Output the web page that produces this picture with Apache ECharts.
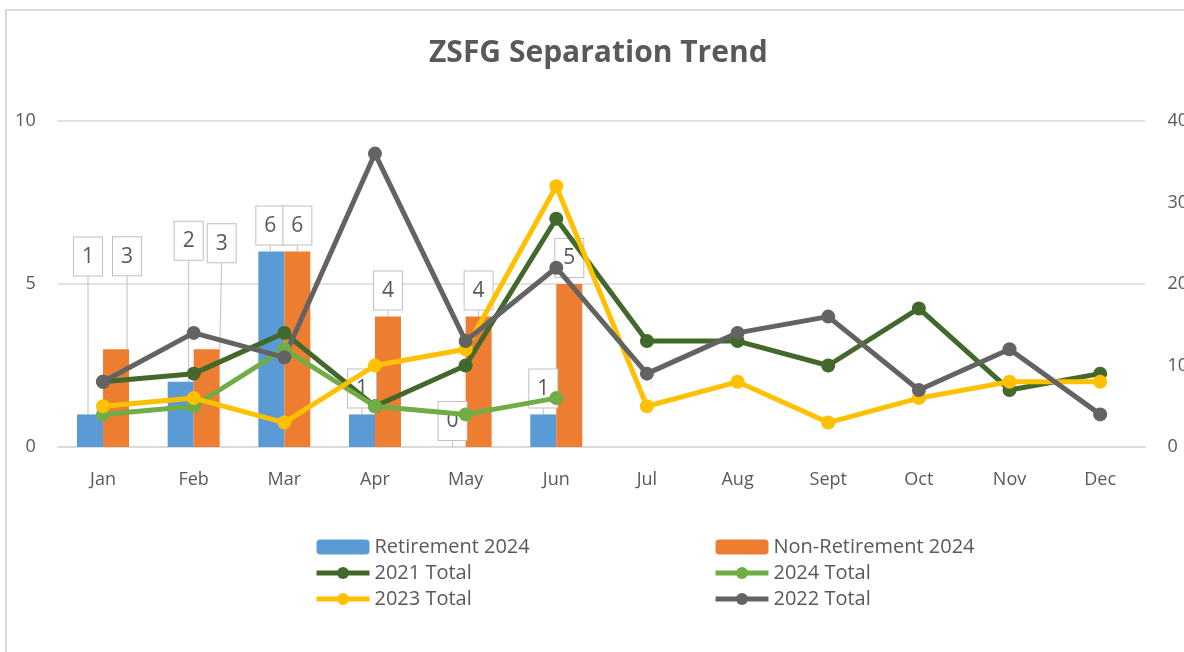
<!DOCTYPE html>
<html>
<head>
<meta charset="utf-8">
<script src="https://cdn.jsdelivr.net/npm/echarts@6/dist/echarts.min.js"></script>
<style>
html,body{margin:0;padding:0;background:#fff;}
#wrap{position:relative;width:1184px;height:652px;overflow:hidden;}
#chart{position:absolute;left:0;top:0;width:1184px;height:652px;}
#frame{position:absolute;left:5px;top:9px;width:1300px;height:800px;border-left:2px solid #d9d9d9;border-top:2px solid #d9d9d9;pointer-events:none;}
</style>
</head>
<body>
<div id="wrap"><div id="frame"></div><div id="chart"></div></div>
<script>
const months = ['Jan','Feb','Mar','Apr','May','Jun','Jul','Aug','Sept','Oct','Nov','Dec'];
const retirement2024 = [1, 2, 6, 1, 0, 1];
const nonRetirement2024 = [3, 3, 6, 4, 4, 5];
const total2021 = [8, 9, 14, 5, 10, 28, 13, 13, 10, 17, 7, 9];
const total2024 = [4, 5, 12, 5, 4, 6];
const total2023 = [5, 6, 3, 10, 12, 32, 5, 8, 3, 6, 8, 8];
const total2022 = [8, 14, 11, 36, 13, 22, 9, 14, 16, 7, 12, 4];

// callout label offsets (layout only)
const retLabelShift = [[-2, -132], [8, -115], [-1, 0], [0, 0], [0, 0], [0, 0]];
const nonRetLabelShift = [[11, -67], [15, -80], [0, 0], [0, 0], [0, 0], [0, 0]];

const FONT = 'Open Sans';
const TXT = '#595959';

function calloutLabel() {
  return {
    show: true, position: 'top', distance: 7,
    formatter: '{c}', fontFamily: FONT, fontSize: 21, color: TXT,
    backgroundColor: '#fff', borderColor: '#bfbfbf', borderWidth: 1,
    padding: [8, 8, 7, 8], lineHeight: 23
  };
}
function lineSeries(name, data, color) {
  return {
    name, type: 'line', yAxisIndex: 1, data,
    symbol: 'circle', symbolSize: 14,
    lineStyle: { width: 5, color }, itemStyle: { color },
    emphasis: { disabled: true }
  };
}
const legendCommon = {
  top: 537, orient: 'vertical', itemGap: 6, itemWidth: 53, itemHeight: 15, padding: 0,
  lineStyle: { width: 5 },
  textStyle: { fontFamily: FONT, fontSize: 20, color: TXT, lineHeight: 20, padding: [0, 0, 0, 0] }
};

const chart = echarts.init(document.getElementById('chart'), null, { renderer: 'canvas' });
chart.setOption({
  animation: false,
  title: {
    text: 'ZSFG Separation Trend', left: 429, top: 38, padding: 0,
    textStyle: { fontFamily: FONT, fontSize: 30, fontWeight: 'bold', color: TXT }
  },
  legend: [
    Object.assign({ left: 314, data: ['Retirement 2024', '2021 Total', '2023 Total'] }, legendCommon),
    Object.assign({ left: 713, data: ['Non-Retirement 2024', '2024 Total', '2022 Total'] }, legendCommon)
  ],
  grid: { left: 57.7, right: 38.5, top: 121, bottom: 205, containLabel: false, outerBoundsMode: 'none' },
  xAxis: {
    type: 'category', data: months,
    axisLine: { lineStyle: { color: '#d9d9d9', width: 1.5 } },
    axisTick: { show: false },
    axisLabel: { fontFamily: FONT, fontSize: 18, color: TXT, margin: 24 }
  },
  yAxis: [
    {
      type: 'value', min: 0, max: 10, interval: 5,
      axisLine: { show: false }, axisTick: { show: false },
      splitLine: { lineStyle: { color: '#d9d9d9', width: 1.5 } },
      axisLabel: { fontFamily: FONT, fontSize: 18, color: TXT, margin: 22 }
    },
    {
      type: 'value', min: 0, max: 40, interval: 10,
      axisLine: { show: false }, axisTick: { show: false },
      splitLine: { show: false },
      axisLabel: { fontFamily: FONT, fontSize: 18, color: TXT, margin: 22 }
    }
  ],
  series: [
    {
      name: 'Retirement 2024', type: 'bar', data: retirement2024,
      barWidth: 26, barGap: '0%', itemStyle: { color: '#5b9bd5' },
      label: calloutLabel(),
      labelLine: { show: true, lineStyle: { color: '#bfbfbf', width: 1 } },
      labelLayout: p => ({ dx: retLabelShift[p.dataIndex][0], dy: retLabelShift[p.dataIndex][1] }),
      emphasis: { disabled: true }
    },
    {
      name: 'Non-Retirement 2024', type: 'bar', data: nonRetirement2024,
      barWidth: 26, barGap: '0%', itemStyle: { color: '#ed7d31' },
      label: calloutLabel(),
      labelLine: { show: true, lineStyle: { color: '#bfbfbf', width: 1 } },
      labelLayout: p => ({ dx: nonRetLabelShift[p.dataIndex][0], dy: nonRetLabelShift[p.dataIndex][1] }),
      emphasis: { disabled: true }
    },
    lineSeries('2021 Total', total2021, '#43682b'),
    lineSeries('2024 Total', total2024, '#70ad47'),
    lineSeries('2023 Total', total2023, '#ffc000'),
    lineSeries('2022 Total', total2022, '#636363')
  ]
});
</script>
</body>
</html>
